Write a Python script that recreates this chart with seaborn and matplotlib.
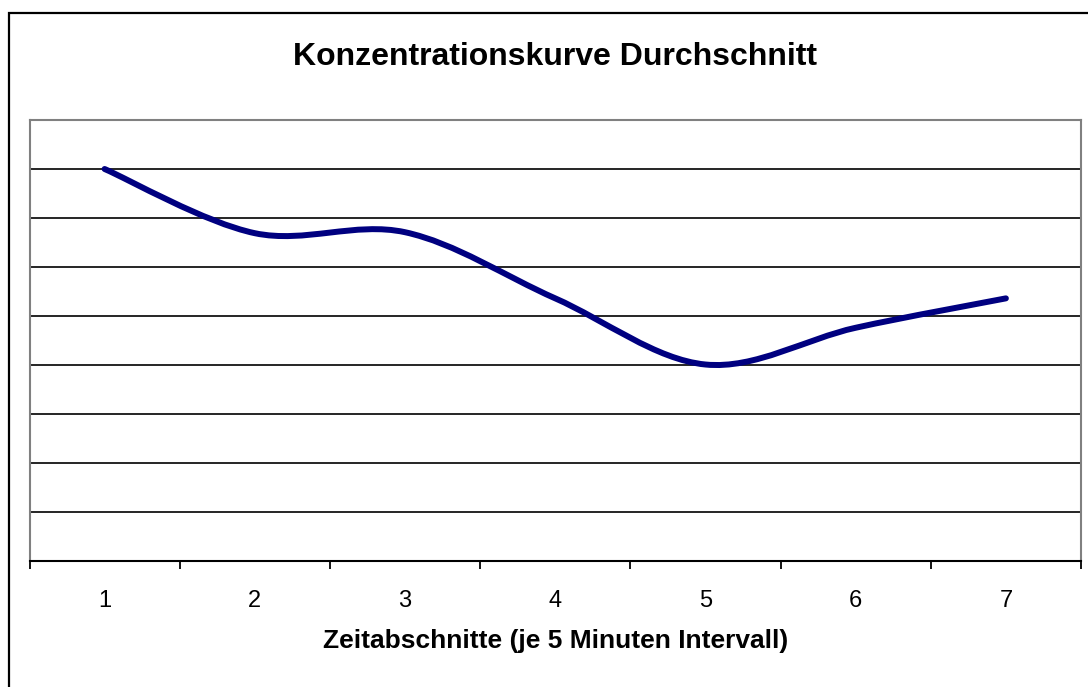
import matplotlib.pyplot as plt
import numpy as np
import seaborn as sns
from matplotlib.patches import PathPatch, Rectangle
from matplotlib.path import Path

# data (y axis unlabeled, gridlines at 1 unit steps)
zeitabschnitte = [1, 2, 3, 4, 5, 6, 7]
konzentration = [8.0, 6.69, 6.71, 5.36, 4.01, 4.76, 5.36]
tick_labels = ["1", "2", "3", "4", "5", "6", "7"]

title = "Konzentrationskurve Durchschnitt"
xlabel = "Zeitabschnitte (je 5 Minuten Intervall)"

sns.set_style("white", {"text.color": "black", "xtick.color": "black",
                        "xtick.bottom": True})
plt.rcParams["font.family"] = ["Liberation Sans", "DejaVu Sans"]

fig = plt.figure(figsize=(10.88, 6.87), dpi=100)
ax = fig.add_axes([29.5 / 1088, 1 - 561 / 687, (1081 - 29.5) / 1088, (561 - 120) / 687])

# smoothed line (Excel style): cubic bezier through the data points
x = np.array(zeitabschnitte, dtype=float)
y = np.array(konzentration, dtype=float)
px = np.concatenate([[x[0]], x, [x[-1]]])
py = np.concatenate([[y[0]], y, [y[-1]]])
verts = [(x[0], y[0])]
codes = [Path.MOVETO]
for i in range(1, len(x)):
    c1 = (px[i] + (px[i + 1] - px[i - 1]) / 6, py[i] + (py[i + 1] - py[i - 1]) / 6)
    c2 = (px[i + 1] - (px[i + 2] - px[i]) / 6, py[i + 1] - (py[i + 2] - py[i]) / 6)
    verts += [c1, c2, (px[i + 1], py[i + 1])]
    codes += [Path.CURVE4] * 3
ax.add_patch(PathPatch(Path(verts, codes), fill=False, edgecolor="#000080",
                       lw=4.3, capstyle="round", joinstyle="round", zorder=3))

ax.set_xlim(0.5, 7.5)
ax.set_ylim(0, 9)

# gridlines
ax.set_yticks(range(1, 9))
ax.set_yticklabels([])
ax.tick_params(axis="y", length=0, left=False)
ax.grid(axis="y", color="black", lw=1.2)
ax.set_axisbelow(True)

# category boundaries as ticks, labels at centres
ax.set_xticks(np.arange(0.5, 8.0, 1.0))
ax.set_xticklabels([])
ax.tick_params(axis="x", which="major", bottom=True, direction="out",
               length=6, width=1.3, color="black")
ax.set_xticks(zeitabschnitte, minor=True)
ax.set_xticklabels(tick_labels, minor=True, fontsize=17, color="black")
ax.tick_params(axis="x", which="minor", bottom=True, length=0, pad=21)

for side in ["left", "top", "right"]:
    ax.spines[side].set_color("#808080")
    ax.spines[side].set_linewidth(1.5)
ax.spines["bottom"].set_color("black")
ax.spines["bottom"].set_linewidth(1.5)

ax.set_title(title, fontsize=23, fontweight="bold", color="black",
             y=(561 - 57) / 441, va="center", pad=0)
ax.set_xlabel(xlabel, fontsize=19, fontweight="bold", color="black", va="center")
ax.xaxis.set_label_coords(0.5, (561 - 641) / 441)

# outer chart frame (cropped at right and bottom)
fig.patches.append(Rectangle((8.5 / 1088, -0.5), 2.0, 0.5 + 1 - 13 / 687,
                             transform=fig.transFigure, fill=False,
                             edgecolor="black", lw=1.6))

fig.savefig("out.png", dpi=100)
